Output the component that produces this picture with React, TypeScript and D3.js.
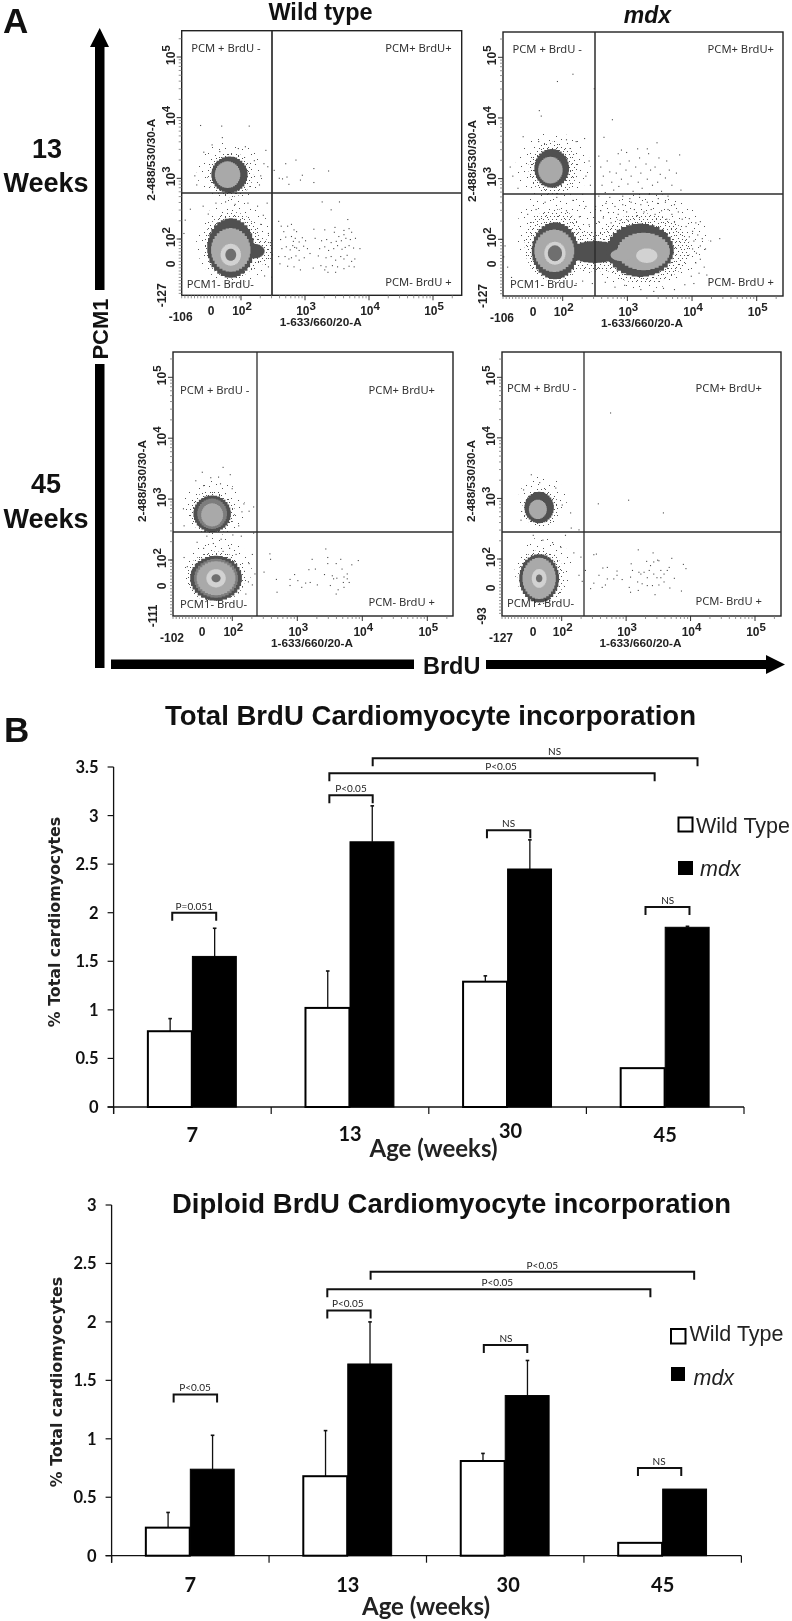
import React from "react";
import * as d3 from "d3";

// ---------- Panel B data ----------
const AGES = ["7", "13", "30", "45"];
const SERIES = ["Wild Type", "mdx"];
const Y_TICKS_TOTAL = [0, 0.5, 1, 1.5, 2, 2.5, 3, 3.5];
const Y_TICKS_DIPLOID = [0, 0.5, 1, 1.5, 2, 2.5, 3];
const TOTAL_WT = [0.78, 1.02, 1.29, 0.4];
const TOTAL_MDX = [1.55, 2.73, 2.45, 1.85];
const TOTAL_WT_TOP = [0.91, 1.4, 1.35, 0.4];
const TOTAL_MDX_TOP = [1.84, 3.1, 2.75, 1.86];
const DIPLOID_WT = [0.24, 0.68, 0.81, 0.11];
const DIPLOID_MDX = [0.74, 1.64, 1.37, 0.57];
const DIPLOID_WT_TOP = [0.37, 1.07, 0.875, 0.11];
const DIPLOID_MDX_TOP = [1.03, 2.0, 1.67, 0.575];
// [from group pos, to group pos, level, label, label pos]
const TOTAL_BRACKETS: [number, number, number, string, number][] = [
  [-0.128, 0.151, 2.0, "P=0.051", 0.012],
  [0.869, 1.144, 3.21, "P<0.05", 1.006],
  [0.869, 2.933, 3.435, "P<0.05", 1.958],
  [1.144, 3.205, 3.59, "NS", 2.298],
  [1.869, 2.144, 2.85, "NS", 2.006],
  [2.875, 3.154, 2.06, "NS", 3.016],
];
const DIPLOID_BRACKETS: [number, number, number, string, number][] = [
  [-0.106, 0.17, 1.38, "P<0.05", 0.03],
  [0.87, 1.145, 2.098, "P<0.05", 1.0],
  [0.87, 2.922, 2.28, "P<0.05", 1.95],
  [1.145, 3.2, 2.428, "P<0.05", 2.236],
  [1.864, 2.14, 1.803, "NS", 2.005],
  [2.843, 3.118, 0.75, "NS", 2.977],
];

// ---------- Panel A data: log10 intensity ----------
const DECADES = [2, 3, 4, 5];
// [cx, cy, rx, ry, density level]  level: -2 sparse, -1 dense stipple, 0..4 contour bands
type Blob = [number, number, number, number, number];
const BLOBS_WT13: Blob[] = [
  [1.83, 3.1, 0.52, 0.5, -2], [1.9, 1.95, 0.6, 0.68, -2], [1.83, 3.06, 0.36, 0.37, -1], [1.86, 1.9, 0.44, 0.55, -1], [2.3, 1.8, 0.2, 0.22, -1],
  [1.82, 3.06, 0.285, 0.3, 0], [1.84, 1.85, 0.37, 0.49, 0], [2.2, 1.8, 0.17, 0.12, 0],
  [1.79, 3.06, 0.2, 0.22, 2], [1.84, 1.82, 0.31, 0.36, 2], [1.84, 1.74, 0.16, 0.18, 3], [1.84, 1.74, 0.085, 0.1, 4],
];
const BLOBS_MDX13: Blob[] = [
  [1.85, 3.2, 0.58, 0.56, -2], [1.9, 2.1, 0.62, 0.75, -2], [3.25, 1.98, 1.0, 0.8, -2], [2.6, 1.95, 0.55, 0.55, -2],
  [1.85, 3.17, 0.38, 0.44, -1], [1.88, 1.9, 0.47, 0.6, -1], [3.25, 1.85, 0.72, 0.58, -1], [2.5, 1.8, 0.45, 0.33, -1],
  [1.83, 3.17, 0.27, 0.32, 0], [1.88, 1.81, 0.36, 0.47, 0], [2.5, 1.79, 0.41, 0.18, 0], [3.2, 1.82, 0.52, 0.44, 0],
  [1.81, 3.14, 0.19, 0.22, 2], [1.87, 1.81, 0.31, 0.35, 2], [3.25, 1.8, 0.41, 0.31, 2], [2.91, 1.74, 0.17, 0.1, 2],
  [1.88, 1.77, 0.165, 0.19, 3], [3.3, 1.73, 0.165, 0.12, 3], [1.88, 1.77, 0.11, 0.13, 4],
];
const BLOBS_WT45: Blob[] = [
  [1.72, 2.85, 0.48, 0.45, -2], [1.78, 1.85, 0.52, 0.52, -2], [1.69, 2.78, 0.35, 0.36, -1], [1.75, 1.72, 0.45, 0.42, -1],
  [1.69, 2.76, 0.29, 0.3, 0], [1.75, 1.7, 0.4, 0.37, 0], [1.69, 2.76, 0.23, 0.25, 1], [1.75, 1.7, 0.34, 0.32, 1],
  [1.69, 2.74, 0.17, 0.19, 2], [1.75, 1.7, 0.3, 0.28, 2], [1.75, 1.7, 0.15, 0.15, 3], [1.75, 1.7, 0.07, 0.065, 4],
];
const BLOBS_MDX45: Blob[] = [
  [1.7, 2.95, 0.38, 0.42, -2], [1.72, 1.82, 0.45, 0.55, -2], [1.67, 2.85, 0.28, 0.32, -1], [1.68, 1.7, 0.36, 0.45, -1],
  [1.65, 2.85, 0.23, 0.26, 0], [1.65, 1.68, 0.31, 0.4, 0], [1.63, 2.82, 0.14, 0.16, 2], [1.65, 1.68, 0.26, 0.34, 2],
  [1.65, 1.68, 0.115, 0.155, 3], [1.65, 1.68, 0.05, 0.065, 4],
];
const DOTS_WT13: number[][] = [
  [1.36,3.88],[1.69,3.87],[2.12,3.87],[1.7,3.68],[1.54,3.56],[1.41,3.44],[1.66,3.45],[1.95,3.5],[2.06,3.53],[2.38,3.47],[2.35,3.25],[2.41,3.2],[1.27,3.05],[1.3,2.9],[2.2,3.3],[2.3,3.05],[2.28,2.9],
  [1.2,2.5],[1.12,2.32],[1.4,2.55],[1.48,2.42],[1.6,2.6],[1.75,2.62],[1.9,2.58],[2.1,2.6],[2.25,2.55],[2.34,2.4],[2.4,2.6],[2.3,2.25],[2.42,2.1],[2.45,1.95],[2.48,1.75],[2.42,1.55],[2.36,1.4],[2.47,1.38],[1.1,2.1],
  [2.51,3.14],[2.69,3.25],[2.85,3.31],[2.59,3.01],[2.71,3.03],[2.64,3.0],[2.74,2.91],[2.95,3.06],[2.92,2.98],[3.13,3.17],[3.13,2.94],[3.36,3.13],
  [2.58,2.3],[2.62,2.22],[2.72,2.22],[2.78,2.25],[2.66,2.13],[2.82,2.16],[2.86,2.13],[2.61,2.0],[2.69,2.04],[2.78,2.05],[2.81,1.97],[2.84,2.02],[2.9,1.96],[2.95,2.03],[3.0,1.98],[2.63,1.85],[2.7,1.88],[2.76,1.83],[2.8,1.9],[2.83,1.87],[2.86,1.86],[2.9,1.82],[2.97,1.89],[3.03,1.85],[2.58,1.72],[2.68,1.72],[2.74,1.68],[2.78,1.7],[2.85,1.73],[2.9,1.66],[2.98,1.7],[2.6,1.6],[2.72,1.56],[2.82,1.55],[2.92,1.5],[3.07,1.77],
  [3.26,2.62],[3.53,2.62],[3.4,2.49],[3.66,2.33],[3.46,2.2],[3.13,2.17],[3.3,2.16],[3.45,2.12],[3.6,2.15],[3.68,2.18],[3.72,2.12],[3.52,2.05],[3.6,2.08],[3.15,2.02],[3.25,1.98],[3.33,2.0],[3.4,1.95],[3.48,1.97],[3.56,1.98],[3.63,2.02],[3.7,2.0],[3.78,2.02],[3.22,1.85],[3.3,1.88],[3.36,1.82],[3.44,1.85],[3.5,1.9],[3.57,1.84],[3.62,1.87],[3.68,1.9],[3.75,1.86],[3.85,1.85],[3.2,1.73],[3.32,1.7],[3.4,1.72],[3.47,1.66],[3.55,1.72],[3.6,1.68],[3.65,1.74],[3.72,1.64],[3.77,1.68],[3.12,1.53],[3.24,1.57],[3.32,1.55],[3.42,1.57],[3.5,1.55],[3.6,1.52],[3.68,1.56],[3.76,1.55],[3.35,1.46],[3.47,1.46],[3.3,1.5],
];
const DOTS_MDX13: number[][] = [
  [2.15,4.73],[1.91,4.61],[2.48,4.49],[1.63,4.13],[1.66,4.04],[2.76,3.98],[2.63,3.69],[1.38,3.7],[1.62,3.62],[2.05,3.65],[2.2,3.62],[2.33,3.67],[1.18,3.2],[1.22,3.05],[1.3,2.85],[2.4,3.3],[2.35,3.05],[2.42,2.9],[2.3,2.75],
  [2.55,3.38],[2.58,3.2],[2.62,3.05],[2.6,2.9],[2.65,2.78],[2.68,3.3],[2.72,3.12],[2.75,2.95],[2.78,2.82],[2.72,2.7],[2.85,3.42],[2.88,3.25],[2.82,3.1],[2.9,3.0],[2.86,2.88],[2.92,2.72],[2.98,3.44],[3.02,3.3],[2.97,3.15],[3.05,3.05],[3.0,2.92],[3.08,2.8],[3.03,2.68],[3.15,3.5],[3.18,3.35],[3.12,3.2],[3.2,3.1],[3.16,2.95],[3.22,2.85],[3.18,2.7],[3.3,3.5],[3.32,3.42],[3.28,3.25],[3.35,3.15],[3.3,3.0],[3.38,2.9],[3.33,2.75],[3.45,3.6],[3.48,3.35],[3.42,3.2],[3.5,3.08],[3.46,2.95],[3.52,2.8],[3.47,2.68],[3.6,3.3],[3.64,3.15],[3.58,3.02],[3.68,2.9],[3.62,2.72],[3.8,3.4],[3.75,3.1],[3.82,2.82],[2.55,2.72],[2.9,3.48],
  [2.5,2.55],[2.58,2.48],[2.66,2.6],[2.7,2.45],[2.8,2.55],[2.85,2.42],[2.92,2.58],[2.98,2.46],[3.05,2.62],[3.1,2.5],[3.14,2.4],[3.2,2.58],[3.25,2.46],[3.3,2.62],[3.36,2.5],[3.42,2.42],[3.46,2.6],[3.52,2.48],[3.58,2.62],[3.62,2.5],[3.68,2.42],[3.72,2.58],[3.78,2.46],[2.55,2.3],[2.62,2.36],[2.74,2.28],[2.88,2.32],[3.0,2.32],[3.6,2.34],[3.72,2.3],[3.84,2.34],
  [3.9,2.22],[3.95,2.35],[4.0,2.14],[4.05,2.28],[4.12,2.3],[3.95,2.05],[4.02,1.98],[4.08,2.08],[4.15,2.02],[4.0,1.85],[4.06,1.78],[4.12,1.9],[4.2,1.85],[4.28,1.98],[4.42,2.02],[4.05,1.62],[4.12,1.68],[4.18,1.55],[4.1,1.45],[4.22,1.42],[3.98,1.4],[4.02,1.28],[3.88,1.26],[3.72,1.18],[3.55,1.2],[3.4,1.15],[3.2,1.18],[2.95,1.25],[2.8,1.22],[2.65,1.3],[2.45,1.28],[2.3,1.32],[2.2,1.28],
  [1.1,1.9],[1.08,1.72],[1.14,1.55],[1.02,1.7],[1.2,1.38],[2.35,2.55],[2.25,2.38],[2.15,2.65],[2.05,2.48],[1.9,2.7],[1.72,2.62],[1.58,2.5],[1.45,2.42],[2.4,2.25],[2.44,2.12],[2.48,2.02],
];
const DOTS_WT45: number[][] = [
  [2.57,2.11],[2.58,2.02],[2.48,1.81],[2.67,1.69],[2.68,1.48],[2.88,1.69],[2.88,1.59],[2.95,1.77],[3.0,1.67],[3.06,1.56],[3.12,1.63],[3.19,1.64],[3.17,1.85],[3.27,1.86],[3.22,2.02],[3.3,1.6],[3.43,2.19],[3.46,2.05],[3.46,1.95],[3.41,1.77],[3.5,1.59],[3.53,1.75],[3.55,1.7],[3.59,1.95],[3.66,2.02],[3.68,1.86],[3.6,1.71],[3.71,1.73],[3.76,1.7],[3.7,1.64],[3.79,1.64],[3.71,1.56],[3.62,1.52],[3.59,1.45],[3.83,1.93],[3.93,2.0],[3.76,1.78],
  [1.85,3.53],[1.53,3.45],[1.96,3.41],[1.66,3.36],[1.78,3.37],[1.43,3.31],[1.81,3.26],[1.55,3.23],[1.99,3.18],[2.17,2.93],[2.25,2.81],[2.32,2.88],[1.24,2.85],[1.25,2.57],[2.14,2.8],[2.09,2.57],
  [1.6,2.4],[1.7,2.28],[1.82,2.35],[1.95,2.2],[2.0,2.42],[2.13,2.4],[2.32,2.45],[1.45,2.3],[1.55,2.2],[1.85,2.15],[2.05,2.1],[2.3,2.1],[2.34,1.78],[2.24,1.65],[1.25,2.05],[1.3,1.9],[2.25,1.95],[2.3,1.6],[2.2,1.45],
];
const DOTS_MDX45: number[][] = [
  [2.75,4.42],[2.56,2.92],[3.03,2.98],[3.57,2.77],[3.18,2.16],[3.41,2.11],[2.49,2.08],[2.53,2.09],[2.63,1.86],[2.7,1.87],[2.85,1.81],[2.85,1.74],[3.07,1.93],[3.31,1.97],[3.48,1.99],[3.5,1.98],[3.7,2.02],[3.88,1.92],[3.92,1.85],[3.66,1.87],[3.42,1.96],[3.37,1.9],[3.35,1.82],[3.27,1.79],[3.19,1.79],[3.09,1.82],[3.06,1.71],[3.22,1.76],[3.42,1.76],[3.53,1.82],[3.63,1.82],[3.58,1.76],[3.74,1.69],[3.53,1.7],[3.47,1.7],[3.32,1.7],[3.17,1.63],[3.24,1.6],[3.32,1.57],[3.4,1.57],[3.5,1.58],[3.58,1.63],[3.67,1.53],[3.85,1.48],[3.44,1.42],[3.18,1.49],[3.06,1.46],[3.04,1.54],[2.93,1.67],[2.8,1.68],[2.7,1.68],[2.67,1.58],[2.62,1.54],[2.49,1.61],[2.44,1.52],[2.57,1.74],
  [2.36,1.82],[2.26,1.74],[2.31,1.64],[2.29,2.04],[2.18,2.11],[2.26,2.49],[2.13,2.77],[1.52,3.4],[1.65,3.27],[1.4,3.15],[1.9,3.18],[2.0,2.9],[1.36,2.65],[2.14,2.52],[1.55,2.4],[1.7,2.32],[1.85,2.28],[1.98,2.2],[2.05,2.4],
];

// ---------- Layout ----------
const PANELS = [
  { box: [181.7, 30.7, 461.7, 295.3], gate: [272, 193], x2: 241, x5: 433, y2: 239, y5: 57, zero: [211, 264], low: ["-106", "-127"], blobs: BLOBS_WT13, dots: DOTS_WT13, q: [9.5, 21, 10, 288, 5], gw: 1.7 },
  { box: [503, 32, 783, 296], gate: [595, 194], x2: 562.7, x5: 756.7, y2: 239.3, y5: 57.3, zero: [533, 264], low: ["-106", "-127"], blobs: BLOBS_MDX13, dots: DOTS_MDX13, q: [9.5, 21, 9, 288, 7], gw: 1.5 },
  { box: [173, 352, 453, 616], gate: [257, 532], x2: 232.3, x5: 427.3, y2: 560, y5: 377.3, zero: [202, 586], low: ["-102", "-111"], blobs: BLOBS_WT45, dots: DOTS_WT45, q: [7, 42, 18, 608, 7], gw: 1.3 },
  { box: [502, 352, 781, 616], gate: [584, 532], x2: 561.7, x5: 755, y2: 559, y5: 377.3, zero: [533, 588], low: ["-127", "-93"], blobs: BLOBS_MDX45, dots: DOTS_MDX45, q: [5, 40, 19, 607, 5], gw: 1.3 },
];
const SANS = "'Liberation Sans', Arial, sans-serif";
const LATO = "Lato, sans-serif";
const SHADES: Record<string, string> = { "-2": "url(#sparse)", "-1": "url(#dense)", "0": "#505050", "1": "#7d7d7d", "2": "#a9a9a9", "3": "#d2d2d2", "4": "#6f6f6f" };

function blobPath(b: Blob, sx: any, sy: any) {
  const [cx, cy, rx, ry] = b;
  const pts = d3.range(0, 37).map((i) => {
    const t = (i / 36) * 2 * Math.PI;
    return [sx(cx + rx * Math.cos(t)), sy(cy + ry * Math.sin(t))] as [number, number];
  });
  return d3.line().curve(b[4] < 0 ? d3.curveLinear : d3.curveStep)(pts) + "Z";
}

function Exp({ x, y, e, rotate }: { x: number; y: number; e: number; rotate?: boolean }) {
  return (
    <text transform={`translate(${x},${y})${rotate ? " rotate(-90)" : ""}`} textAnchor="middle" fontFamily={SANS} fontWeight="bold" fontSize={12} fill="#222">
      10<tspan dy={-5} fontSize={11.5}>{e}</tspan>
    </text>
  );
}

function FlowPanel({ p }: { p: (typeof PANELS)[number] }) {
  const [l, t, r, b] = p.box;
  const sx = d3.scaleLinear().domain([2, 5]).range([p.x2, p.x5]);
  const sy = d3.scaleLinear().domain([2, 5]).range([p.y2, p.y5]);
  const minor = (s: any) =>
    DECADES.flatMap((d) => d3.range(2, 10).map((k) => s(d + Math.log10(k))));
  const xLow = d3.range(l, p.x2, 3.2);
  const yLow = d3.range(p.y2, b, 3.2);
  const clip = `clip${Math.round(l)}${Math.round(t)}`;
  const [ql, qt, qr, qb, ql2] = p.q;
  const qStyle = { fontFamily: "'Noto Sans', sans-serif", fontSize: 11.2, fill: "#333" };
  return (
    <g>
      <clipPath id={clip}><rect x={l} y={t} width={r - l} height={b - t} /></clipPath>
      <g clipPath={`url(#${clip})`}>
        {p.blobs.map((bl, i) => (
          <path key={i} d={blobPath(bl, sx, sy)} fill={SHADES[String(bl[4])]} />
        ))}
        {p.dots.map((d, i) => (
          <rect key={i} x={sx(d[0])} y={sy(d[1])} width={1.1} height={1.1} fill="#4a4a4a" />
        ))}
      </g>
      <rect x={l} y={t} width={r - l} height={b - t} fill="none" stroke="#222" strokeWidth={1.4} />
      <line x1={p.gate[0]} x2={p.gate[0]} y1={t} y2={b} stroke="#2c2c2c" strokeWidth={p.gw} />
      <line x1={l} x2={r} y1={p.gate[1]} y2={p.gate[1]} stroke="#2c2c2c" strokeWidth={1.3} />
      {[...minor(sx).filter((v: number) => v < r), ...xLow].map((v: number, i: number) => (
        <line key={i} x1={v} x2={v} y1={b} y2={b + 3} stroke="#777" strokeWidth={0.8} />
      ))}
      {[...minor(sy).filter((v: number) => v > t), ...yLow].map((v: number, i: number) => (
        <line key={i} x1={l - 3} x2={l} y1={v} y2={v} stroke="#777" strokeWidth={0.8} />
      ))}
      {DECADES.map((d) => (
        <g key={d}>
          <line x1={sx(d)} x2={sx(d)} y1={b} y2={b + 5} stroke="#333" />
          <line x1={l - 5} x2={l} y1={sy(d)} y2={sy(d)} stroke="#333" />
          <Exp x={sx(d) + 1} y={b + 20} e={d} />
          <Exp x={l - 7} y={sy(d) - 2} e={d} rotate />
        </g>
      ))}
      <text x={p.zero[0]} y={b + 20} textAnchor="middle" fontFamily={SANS} fontWeight="bold" fontSize={12} fill="#222">0</text>
      <text transform={`translate(${l - 7},${p.zero[1]}) rotate(-90)`} textAnchor="middle" fontFamily={SANS} fontWeight="bold" fontSize={12} fill="#222">0</text>
      <text x={l - 1} y={b + 26} textAnchor="middle" fontFamily={SANS} fontWeight="bold" fontSize={12} fill="#222">{p.low[0]}</text>
      <text transform={`translate(${l - 16},${b}) rotate(-90)`} textAnchor="middle" fontFamily={SANS} fontWeight="bold" fontSize={12} fill="#222">{p.low[1]}</text>
      <text transform={`translate(${l - 27},${t + 129}) rotate(-90)`} textAnchor="middle" fontFamily={SANS} fontWeight="bold" fontSize={11.8} fill="#222">2-488/530/30-A</text>
      <text x={(l + r) / 2} y={b + 31} textAnchor="middle" fontFamily={SANS} fontWeight="bold" fontSize={11.8} fill="#222" dx={-1}>1-633/660/20-A</text>
      <text x={l + ql} y={t + qt} style={qStyle}>PCM + BrdU -</text>
      <text x={r - qr} y={t + qt} textAnchor="end" style={qStyle}>PCM+ BrdU+</text>
      <text x={l + ql2} y={qb} style={qStyle}>PCM1- BrdU-</text>
      <text x={r - qr} y={qb - 2} textAnchor="end" style={qStyle}>PCM- BrdU +</text>
    </g>
  );
}

type Bracket = [number, number, number, string, number];
function BarChart(props: {
  left: number; right: number; bottom: number; top: number; yMax: number; yTicks: number[];
  wt: number[]; mdx: number[]; wtTop: number[]; mdxTop: number[]; brackets: Bracket[];
  title: string; titleX: number; titleY: number; titleLen: number;
  ageX: number; ageY: number; tickY: number[]; yLabelX: number; yLabelY: number;
  legend: { sq: number[]; wtY: number; mdxSq: number[]; mdxY: number; txtX: number; mdxX: number };
}) {
  const { left, right, bottom, top, yMax, yTicks, wt, mdx, wtTop, mdxTop, brackets, legend } = props;
  const x0 = d3.scaleBand<string>().domain(AGES).range([left, right]).paddingInner(0.435).paddingOuter(0.2175);
  const x1 = d3.scaleBand<string>().domain(SERIES).range([0, x0.bandwidth()]).padding(0);
  const y = d3.scaleLinear().domain([0, yMax]).range([bottom, top]);
  const step = (right - left) / AGES.length;
  const pos = d3.scaleLinear().domain([0, 1]).range([left + step / 2, left + step * 1.5]);
  const tickXs = d3.range(0, AGES.length + 1).map((i) => left + i * step);
  const vals = [wt, mdx];
  const tops = [wtTop, mdxTop];
  return (
    <g>
      <text x={props.titleX} y={props.titleY} fontFamily={SANS} fontWeight="bold" fontSize={27.4} fill="#111" textLength={props.titleLen} lengthAdjust="spacingAndGlyphs">{props.title}</text>
      <line x1={left} x2={left} y1={top} y2={bottom + 7} stroke="#111" strokeWidth={1.3} />
      <line x1={left - 6} x2={right} y1={bottom} y2={bottom} stroke="#111" strokeWidth={1.3} />
      {yTicks.map((v) => (
        <g key={v}>
          <line x1={left - 6} x2={left} y1={y(v)} y2={y(v)} stroke="#111" strokeWidth={1.2} />
          <text x={left - 15} y={y(v) + 6} textAnchor="end" fontFamily={LATO} fontWeight="bold" fontSize={16.5} fill="#111">{v}</text>
        </g>
      ))}
      {tickXs.map((v) => <line key={v} x1={v} x2={v} y1={bottom} y2={bottom + 7} stroke="#111" strokeWidth={1.2} />)}
      {AGES.map((a, i) => (
        <g key={a}>
          {SERIES.map((s, j) => {
            const bx = x0(a)! + x1(s)!;
            const w = x1.bandwidth();
            const cx = bx + w / 2;
            return (
              <g key={s}>
                {tops[j][i] > vals[j][i] + 0.005 && (
                  <g>
                    <line x1={cx} x2={cx} y1={y(tops[j][i])} y2={y(vals[j][i])} stroke="#111" strokeWidth={1.3} />
                    <line x1={cx - 1.8} x2={cx + 1.8} y1={y(tops[j][i])} y2={y(tops[j][i])} stroke="#111" strokeWidth={1.6} />
                  </g>
                )}
                <rect x={bx} y={y(vals[j][i])} width={w - 0.6} height={bottom - y(vals[j][i])} fill={j === 0 ? "#fff" : "#000"} stroke="#000" strokeWidth={j === 0 ? 2 : 1} />
              </g>
            );
          })}
          <text x={pos(i) + (i === 2 ? 3 : 0)} y={bottom + props.tickY[i]} textAnchor="middle" fontFamily={LATO} fontWeight="bold" fontSize={20} fill="#111">{a}</text>
        </g>
      ))}
      <text x={props.ageX} y={props.ageY} textAnchor="middle" fontFamily={LATO} fontWeight="bold" fontSize={24} fill="#222">Age (weeks)</text>
      <text transform={`translate(${props.yLabelX},${props.yLabelY}) rotate(-90)`} textAnchor="middle" fontFamily="'DejaVu Sans', sans-serif" fontWeight="bold" fontSize={15.8} fill="#222">% Total cardiomyocytes</text>
      {brackets.map((br, i) => {
        const [a, b, lv, lab, lp] = br;
        const X = pos(a), X2 = pos(b), Y = y(lv);
        return (
          <g key={i}>
            <path d={`M${X},${Y + 8}V${Y}H${X2}V${Y + 8}`} fill="none" stroke="#111" strokeWidth={2} />
            <text x={pos(lp)} y={Y - 3} textAnchor="middle" fontFamily={LATO} fontSize={10} fill="#222">{lab}</text>
          </g>
        );
      })}
      <rect x={legend.sq[0]} y={legend.sq[1]} width={legend.sq[2]} height={legend.sq[3]} fill="#fff" stroke="#000" strokeWidth={2} />
      <text x={legend.txtX} y={legend.wtY} fontFamily={SANS} fontSize={21.5} fill="#222">{SERIES[0]}</text>
      <rect x={legend.mdxSq[0]} y={legend.mdxSq[1]} width={legend.mdxSq[2]} height={legend.mdxSq[3]} fill="#000" />
      <text x={legend.mdxX} y={legend.mdxY} fontFamily={SANS} fontStyle="italic" fontSize={21.5} fill="#222">{SERIES[1]}</text>
    </g>
  );
}

export default function App() {
  return (
    <svg width={792} height={1621} viewBox="0 0 792 1621" style={{ position: "absolute", left: 0, top: 0, background: "#fff", filter: "blur(0.35px)" }}>
      <defs>
        <pattern id="sparse" width="23" height="23" patternUnits="userSpaceOnUse">
          <rect x="2" y="3" width="1" height="1" fill="#555" /><rect x="9" y="1" width="1" height="1" fill="#555" />
          <rect x="15" y="5" width="1" height="1" fill="#555" /><rect x="20" y="2" width="1" height="1" fill="#555" />
          <rect x="5" y="9" width="1" height="1" fill="#555" /><rect x="12" y="11" width="1" height="1" fill="#555" />
          <rect x="18" y="10" width="1" height="1" fill="#555" /><rect x="1" y="15" width="1" height="1" fill="#555" />
          <rect x="8" y="17" width="1" height="1" fill="#555" /><rect x="14" y="19" width="1" height="1" fill="#555" />
          <rect x="21" y="16" width="1" height="1" fill="#555" /><rect x="4" y="21" width="1" height="1" fill="#555" />
        </pattern>
        <pattern id="dense" width="13" height="13" patternUnits="userSpaceOnUse">
          <rect x="0" y="1" width="1" height="1" fill="#555" /><rect x="4" y="0" width="1" height="1" fill="#555" />
          <rect x="8" y="2" width="1" height="1" fill="#555" /><rect x="11" y="1" width="1" height="1" fill="#555" />
          <rect x="2" y="4" width="1" height="1" fill="#555" /><rect x="6" y="5" width="1" height="1" fill="#555" />
          <rect x="10" y="5" width="1" height="1" fill="#555" /><rect x="0" y="7" width="1" height="1" fill="#555" />
          <rect x="4" y="8" width="1" height="1" fill="#555" /><rect x="8" y="8" width="1" height="1" fill="#555" />
          <rect x="12" y="8" width="1" height="1" fill="#555" /><rect x="2" y="11" width="1" height="1" fill="#555" />
          <rect x="6" y="11" width="1" height="1" fill="#555" /><rect x="10" y="11" width="1" height="1" fill="#555" />
        </pattern>
      </defs>
      <text x={3} y={33} fontFamily={SANS} fontWeight="bold" fontSize={35} fill="#111">A</text>
      <text x={4} y={742} fontFamily={SANS} fontWeight="bold" fontSize={35} fill="#111">B</text>
      <text x={320.5} y={20} textAnchor="middle" fontFamily={SANS} fontWeight="bold" fontSize={23.5} fill="#111">Wild type</text>
      <text x={647.5} y={23} textAnchor="middle" fontFamily={SANS} fontWeight="bold" fontStyle="italic" fontSize={23} fill="#111">mdx</text>
      <text x={47} y={158} textAnchor="middle" fontFamily={SANS} fontWeight="bold" fontSize={27} fill="#111">13</text>
      <text x={46} y={192} textAnchor="middle" fontFamily={SANS} fontWeight="bold" fontSize={27} fill="#111">Weeks</text>
      <text x={46} y={493} textAnchor="middle" fontFamily={SANS} fontWeight="bold" fontSize={27} fill="#111">45</text>
      <text x={46} y={528} textAnchor="middle" fontFamily={SANS} fontWeight="bold" fontSize={27} fill="#111">Weeks</text>

      <path d="M90,47L99.7,28L109,47H104.5V290H95V47Z" fill="#000" />
      <rect x={95} y={364} width={9.5} height={304} fill="#000" />
      <text transform="translate(108,329) rotate(-90)" textAnchor="middle" fontFamily={SANS} fontWeight="bold" fontSize={22} fill="#111">PCM1</text>
      <rect x={111} y={659.5} width={303} height={9.5} fill="#000" />
      <path d="M486,660H766V655L785,664.5L766,674V669H486Z" fill="#000" />
      <text x={423} y={674} fontFamily={SANS} fontWeight="bold" fontSize={23.5} fill="#111">BrdU</text>

      {PANELS.map((p, i) => <FlowPanel key={i} p={p} />)}

      <BarChart left={113.6} right={744} bottom={1107} top={767} yMax={3.5} yTicks={Y_TICKS_TOTAL}
        wt={TOTAL_WT} mdx={TOTAL_MDX} wtTop={TOTAL_WT_TOP} mdxTop={TOTAL_MDX_TOP} brackets={TOTAL_BRACKETS}
        title="Total BrdU Cardiomyocyte incorporation" titleX={165} titleY={725} titleLen={531}
        ageX={433.5} ageY={1157} tickY={[35, 34, 31, 35]} yLabelX={60} yLabelY={922}
        legend={{ sq: [678.5, 817.5, 14, 14], wtY: 833, mdxSq: [678, 861, 15, 14], mdxY: 876, txtX: 696, mdxX: 700 }} />
      <BarChart left={111.6} right={741.4} bottom={1555.7} top={1205} yMax={3} yTicks={Y_TICKS_DIPLOID}
        wt={DIPLOID_WT} mdx={DIPLOID_MDX} wtTop={DIPLOID_WT_TOP} mdxTop={DIPLOID_MDX_TOP} brackets={DIPLOID_BRACKETS}
        title="Diploid BrdU Cardiomyocyte incorporation" titleX={172} titleY={1213} titleLen={559}
        ageX={426} ageY={1615} tickY={[36, 36, 36, 36]} yLabelX={62} yLabelY={1382}
        legend={{ sq: [671, 1329, 14.5, 14.5], wtY: 1341, mdxSq: [671, 1367, 14, 14], mdxY: 1385, txtX: 689.5, mdxX: 693.5 }} />
    </svg>
  );
}
